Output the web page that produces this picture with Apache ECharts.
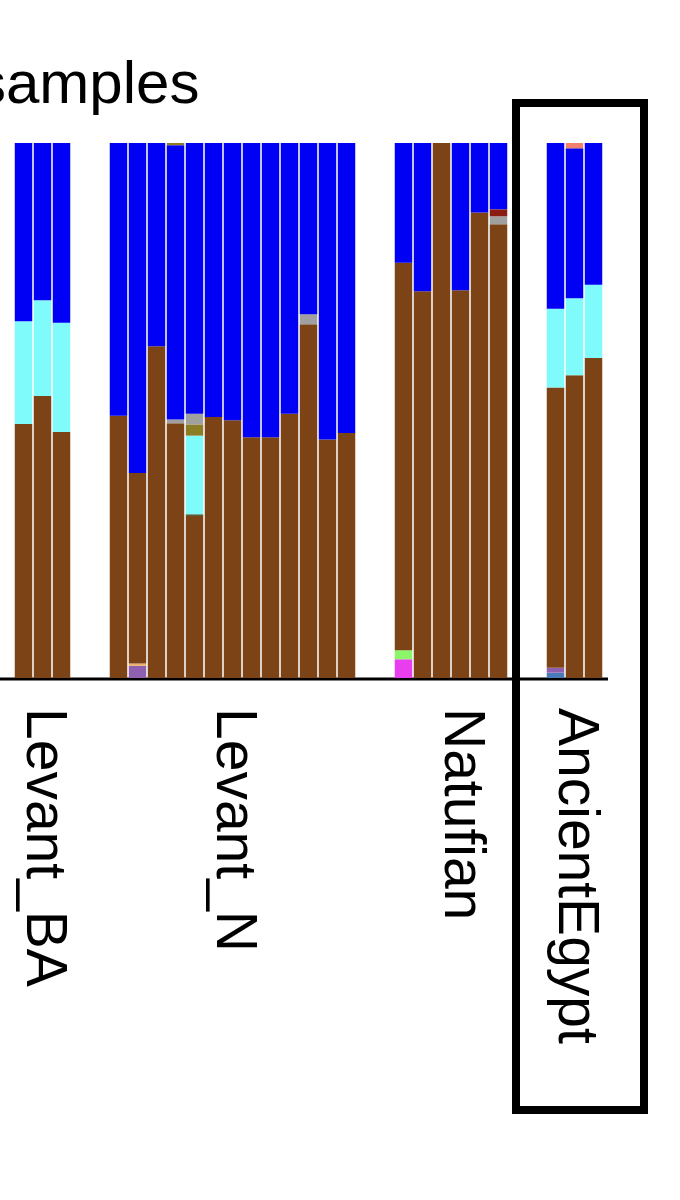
<!DOCTYPE html>
<html lang="en">
<head>
<meta charset="UTF-8">
<title>samples</title>
<script src="https://cdn.jsdelivr.net/npm/echarts@6/dist/echarts.min.js"></script>
<style>body{margin:0;background:#fff}</style>
</head>
<body>
<div id="main" style="width:680px;height:1200px;"></div>
<script>
// groups of samples, in slot order (2 empty slots between groups)
var groups = ['Levant_BA', 'Levant_N', 'Natufian', 'AncientEgypt'];
var groupSizes = [3, 13, 6, 3];
var labelSlot = [1, 11, 23, 29];

// ancestry components per sample (percent), bottom to top
var steelblue = [0,0,0, 0,0,0,0,0,0,0,0,0,0,0,0,0, 0,0,0,0,0,0, 1.0,0,0];
var purple    = [0,0,0, 0,2.3,0,0,0,0,0,0,0,0,0,0,0, 0,0,0,0,0,0, 0.9,0,0];
var magenta   = [0,0,0, 0,0,0,0,0,0,0,0,0,0,0,0,0, 3.5,0,0,0,0,0, 0,0,0];
var green     = [0,0,0, 0,0,0,0,0,0,0,0,0,0,0,0,0, 1.7,0,0,0,0,0, 0,0,0];
var orange    = [0,0,0, 0,0.4,0,0,0,0,0,0,0,0,0,0,0, 0,0,0,0,0,0, 0,0,0];
var brown     = [47.5,52.7,46, 49,35.6,62,47.6,30.3,48.8,48.2,45,45,49.4,66.1,44.6,45.8, 72.4,72.3,100,72.5,87,84.8, 52.4,56.6,59.8];
var darkgreen = [0,0,0, 0,0,0,0,0.3,0,0,0,0,0,0,0,0, 0,0,0,0,0,0, 0,0,0];
var cyan      = [19.2,17.9,20.4, 0,0,0,0,14.7,0,0,0,0,0,0,0,0, 0,0,0,0,0,0, 14.7,14.4,13.7];
var olive     = [0,0,0, 0,0,0,0,2.1,0,0,0,0,0,0,0,0, 0,0,0,0,0,0, 0,0,0];
var grey      = [0,0,0, 0,0,0,0.7,2.0,0,0,0,0,0,1.9,0,0, 0,0,0,0,0,1.5, 0,0,0];
var darkred   = [0,0,0, 0,0,0,0,0,0,0,0,0,0,0,0,0, 0,0,0,0,0,1.3, 0,0,0];
var blue      = [33.3,29.4,33.6, 51,61.7,38,51.3,50.6,51.2,51.8,55,55,50.6,32,55.4,54.2, 22.4,27.7,0,27.5,13,12.4, 31,28,26.5];
var salmon    = [0,0,0, 0,0,0,0,0,0,0,0,0,0,0,0,0, 0,0,0,0,0,0, 0,1.0,0];
var olive2    = [0,0,0, 0,0,0,0.4,0,0,0,0,0,0,0,0,0, 0,0,0,0,0,0, 0,0,0];

var components = [
  ['steelblue', steelblue, '#4A7AB8'], ['purple', purple, '#9060B0'],
  ['magenta', magenta, '#E83EF0'], ['green', green, '#8CF56A'],
  ['orange', orange, '#F0B060'], ['brown', brown, '#7B4316'],
  ['darkgreen', darkgreen, '#405020'], ['cyan', cyan, '#7FFBFC'],
  ['olive', olive, '#8B7D25'], ['grey', grey, '#A0A0A0'],
  ['darkred', darkred, '#8B1A10'], ['blue', blue, '#0000F5'],
  ['salmon', salmon, '#F08070'], ['olive2', olive2, '#8B7D25']
];

// map samples to slots, with gaps between groups
var slots = [];
var sampleSlot = [];
groupSizes.forEach(function (n, g) {
  if (g > 0) { slots.push(''); slots.push(''); }
  for (var i = 0; i < n; i++) { sampleSlot.push(slots.length); slots.push(''); }
});
labelSlot.forEach(function (s, g) { slots[s] = groups[g]; });

var series = components.map(function (c) {
  var d = slots.map(function () { return '-'; });
  c[1].forEach(function (v, i) { d[sampleSlot[i]] = v; });
  return {
    name: c[0], type: 'bar', stack: 'all', data: d,
    barCategoryGap: '8%', itemStyle: { color: c[2] }
  };
});

var myChart = echarts.init(document.getElementById('main'));
myChart.setOption({
  animation: false,
  grid: { left: 14, width: 589, top: 143, height: 535 },
  xAxis: {
    type: 'category', data: slots,
    axisLine: { show: false }, axisTick: { show: false },
    axisLabel: {
      interval: 0, rotate: -90, fontSize: 57, color: '#000', margin: 30,
      fontFamily: 'Liberation Sans, Arial, sans-serif'
    }
  },
  yAxis: { type: 'value', min: 0, max: 100, show: false },
  series: series,
  graphic: [
    { type: 'line', shape: { x1: 0, y1: 679, x2: 608, y2: 679 }, style: { stroke: '#000', lineWidth: 3 } },
    { type: 'rect', shape: { x: 516, y: 103, width: 128, height: 1007 }, style: { fill: 'none', stroke: '#000', lineWidth: 8 } },
    { type: 'text', left: -24, top: 56, style: { text: 'samples', fontSize: 60, fill: '#000', fontFamily: 'Liberation Sans, Arial, sans-serif' } }
  ]
});
</script>
</body>
</html>
